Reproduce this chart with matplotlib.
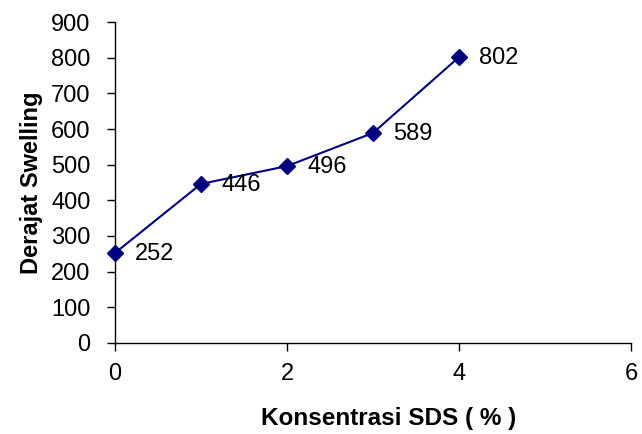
import matplotlib
matplotlib.use("Agg")
import matplotlib.pyplot as plt

plt.rcParams['font.family'] = ['Liberation Sans', 'DejaVu Sans']

konsentrasi = [0, 1, 2, 3, 4]
swelling = [252, 446, 496, 589, 802]
x_ticks = [0, 2, 4, 6]
y_ticks = [0, 100, 200, 300, 400, 500, 600, 700, 800, 900]

fig = plt.figure(figsize=(6.42, 4.34), dpi=100)
ax = fig.add_axes([0.179, 0.21, 0.804, 0.739])

ax.plot(konsentrasi, swelling, color='#000080', linewidth=1.5,
        marker='D', markersize=8, markerfacecolor='#000080',
        markeredgecolor='#000080', clip_on=False, zorder=3)

for x, y in zip(konsentrasi, swelling):
    ax.annotate(str(y), (x, y), xytext=(14.5, -1), textcoords='offset points',
                ha='left', va='center', fontsize=17, color='black')

ax.set_xlim(0, 6)
ax.set_ylim(0, 900)
ax.set_xticks(x_ticks)
ax.set_yticks(y_ticks)
ax.tick_params(axis='both', labelsize=17, direction='out', length=5.5,
               width=1, colors='black')
ax.tick_params(axis='y', pad=12)
ax.tick_params(axis='x', pad=9)
for side in ('top', 'right'):
    ax.spines[side].set_visible(False)
for side in ('left', 'bottom'):
    ax.spines[side].set_linewidth(1)

ax.set_xlabel('Konsentrasi SDS ( % )', fontsize=17.5, fontweight='bold')
ax.xaxis.set_label_coords(0.53, -0.2)
ax.set_ylabel('Derajat Swelling', fontsize=17, fontweight='bold',
              labelpad=6)

fig.savefig('out.png', dpi=100)
